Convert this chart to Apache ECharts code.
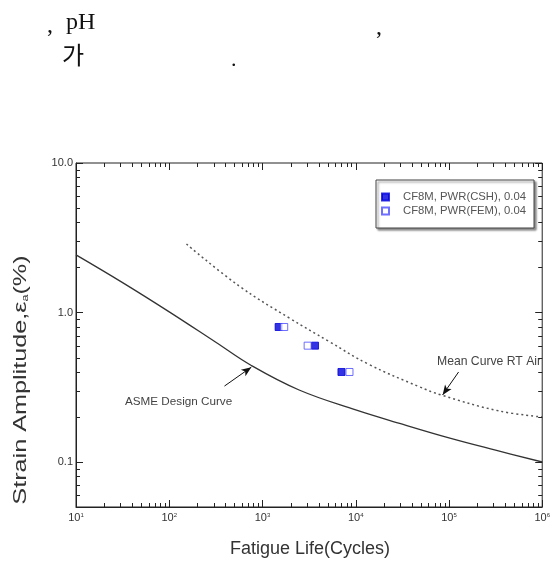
<!DOCTYPE html>
<html>
<head>
<meta charset="utf-8">
<script src="https://cdn.jsdelivr.net/npm/echarts@6/dist/echarts.min.js"></script>
<style>
html,body{margin:0;padding:0;background:#fff;}
#c{width:553px;height:565px;}
</style>
</head>
<body>
<div id="c"></div>
<script>
// ---- data (raw values) ----
const asmeN = [10, 31.6, 100, 316, 759, 2470, 10000, 31600, 100000, 316000, 1000000];
const asmeS = [2.43, 1.585, 1.01, 0.632, 0.442, 0.303, 0.223, 0.179, 0.145, 0.12, 0.1];
const meanN = [153, 565, 1930, 5180, 13800, 47300, 83400, 339000, 1000000];
const meanS = [2.87, 1.50, 0.92, 0.64, 0.45, 0.32, 0.28, 0.22, 0.20];
const cshN = [1490, 3660, 7030];
const cshS = [0.8, 0.6, 0.4];
const femN = [1710, 3050, 8570];
const femS = [0.8, 0.6, 0.4];
const asmeArrow = [[391, 0.322], [759, 0.431]];
const meanArrow = [[126800, 0.400], [85500, 0.281]];
const xDecades = [10, 100, 1000, 10000, 100000, 1000000];
const yTickValues = [0.1, 1, 10];
const yTickLabels = ['0.1', '1.0', '10.0'];
const seriesNames = ['CF8M, PWR(CSH), 0.04', 'CF8M, PWR(FEM), 0.04'];

const L = Math.log10;
const xMin = 1, xMax = 6;
const yMin = L(0.05), yMax = 1;

function minorTicks(lo, hi) {
  const out = [];
  for (let d = -3; d <= 7; d++) {
    for (let k = 2; k <= 9; k++) {
      const v = L(k) + d;
      if (v > lo + 1e-9 && v < hi - 1e-9) out.push(v);
    }
  }
  return out;
}
const xMajor = xDecades.map(L);
const yMajor = yTickValues.map(L);
const xTickData = xMajor.map(v => [v, 1]).concat(minorTicks(xMin, xMax).map(v => [v, 0]));
const yTickData = yMajor.map(v => [v, 1]).concat(minorTicks(yMin, yMax).map(v => [v, 0]));

const lineCol = '#222';
const font = '"Liberation Sans", Arial, sans-serif';
const px = v => Math.round(v) + 0.5;

function tickRenderer(isX) {
  return function (params, api) {
    const cs = params.coordSys;
    const len = api.value(1) ? 7 : 4;
    const st = {stroke: lineCol, lineWidth: 1};
    if (isX) {
      const x = px(api.coord([api.value(0), yMin])[0]);
      const b = cs.y + cs.height, t = cs.y;
      return {type: 'group', children: [
        {type: 'line', shape: {x1: x, y1: b, x2: x, y2: b - len}, style: st},
        {type: 'line', shape: {x1: x, y1: t, x2: x, y2: t + len}, style: st}]};
    }
    const y = px(api.coord([xMin, api.value(0)])[1]);
    const l = cs.x, r = cs.x + cs.width;
    return {type: 'group', children: [
      {type: 'line', shape: {x1: l, y1: y, x2: l + len, y2: y}, style: st},
      {type: 'line', shape: {x1: r, y1: y, x2: r - len, y2: y}, style: st}]};
  };
}

const toXY = (ns, ss) => ns.map((n, i) => [L(n), L(ss[i])]);
const arrowLine = a => [[{coord: [L(a[0][0]), L(a[0][1])], symbol: 'none'},
                         {coord: [L(a[1][0]), L(a[1][1])], symbol: 'arrow'}]];

const chart = echarts.init(document.getElementById('c'), null, {renderer: 'canvas'});
chart.setOption({
  animation: false,
  backgroundColor: '#fff',
  grid: {left: 76, right: 9, top: 163, bottom: 58, containLabel: false,
         show: true, borderColor: lineCol, borderWidth: 1, backgroundColor: 'transparent'},
  xAxis: {
    type: 'value', min: xMin, max: xMax, interval: 1, position: 'bottom',
    splitLine: {show: false},
    axisLine: {show: true, onZero: false, lineStyle: {color: lineCol, width: 1}},
    axisTick: {show: false},
    axisLabel: {show: true, margin: 5, color: '#333', fontFamily: font,
      formatter: v => '{b|10}{s|' + Math.round(v) + '}',
      rich: {b: {fontSize: 11, fontFamily: font, color: '#333'},
             s: {fontSize: 6, fontFamily: font, color: '#333', padding: [0, 0, 6, 0]}}}
  },
  yAxis: {
    type: 'value', min: yMin, max: yMax, position: 'left',
    splitLine: {show: false},
    axisLine: {show: true, onZero: false, lineStyle: {color: lineCol, width: 1}},
    axisTick: {show: false},
    axisLabel: {show: true, margin: 3, color: '#333', fontSize: 11, fontFamily: font,
      customValues: yMajor,
      formatter: v => { const i = yMajor.findIndex(m => Math.abs(m - v) < 1e-6); return i >= 0 ? yTickLabels[i] : ''; }}
  },
  legend: {
    orient: 'vertical', left: 376, top: 180,
    data: seriesNames,
    itemWidth: 7, itemHeight: 7, itemGap: 2,
    padding: [11, 8, 11, 5],
    borderColor: '#444', borderWidth: 1, borderRadius: 0,
    backgroundColor: '#fff',
    shadowColor: 'rgba(0,0,0,0.45)', shadowBlur: 2, shadowOffsetX: 2, shadowOffsetY: 2,
    textStyle: {fontSize: 11.3, color: '#555', fontFamily: font, lineHeight: 12, padding: [0, 0, 0, 9]},
    selectedMode: false
  },
  series: [
    {type: 'custom', name: 'xticks', data: xTickData, renderItem: tickRenderer(true), clip: false, silent: true, z: 5},
    {type: 'custom', name: 'yticks', data: yTickData, encode: {x: 1, y: 0}, renderItem: tickRenderer(false), clip: false, silent: true, z: 5},
    {type: 'line', name: 'ASME Design Curve', data: toXY(asmeN, asmeS), smooth: 0.4,
     showSymbol: false, symbol: 'none', lineStyle: {color: '#333', width: 1.3}, silent: true,
     markLine: {silent: true, symbolSize: [6, 10], label: {show: false},
       lineStyle: {color: '#111', width: 1, type: 'solid'}, data: arrowLine(asmeArrow)}},
    {type: 'line', name: 'Mean Curve RT Air', data: toXY(meanN, meanS), smooth: 0.4,
     showSymbol: false, symbol: 'none', lineStyle: {color: '#555', width: 1.5, type: [2, 3]}, silent: true,
     markLine: {silent: true, symbolSize: [6, 10], label: {show: false},
       lineStyle: {color: '#111', width: 1, type: 'solid'}, data: arrowLine(meanArrow)}},
    {type: 'scatter', name: seriesNames[0], data: toXY(cshN, cshS), symbol: 'rect', symbolSize: 7,
     itemStyle: {color: '#0000dd', borderColor: '#0000dd', borderWidth: 1}},
    {type: 'scatter', name: seriesNames[1], data: toXY(femN, femS), symbol: 'rect', symbolSize: 7,
     itemStyle: {color: '#ffffff', borderColor: '#4a4aff', borderWidth: 1}}
  ],
  graphic: [
    {type: 'text', left: 47, top: 14, style: {text: ',', font: '24px "Liberation Serif", "Times New Roman", serif', fill: '#111'}},
    {type: 'text', left: 66, top: 11, style: {text: 'pH', font: '24px "Liberation Serif", "Times New Roman", serif', fill: '#111'}},
    {type: 'text', left: 376, top: 16, style: {text: ',', font: '24px "Liberation Serif", "Times New Roman", serif', fill: '#111'}},
    {type: 'text', left: 62, top: 43, style: {text: '가', font: '24px "Noto Sans CJK KR", sans-serif', fill: '#111'}},
    {type: 'text', left: 231, top: 49, style: {text: '.', font: '22px "Liberation Serif", serif', fill: '#111'}},
    {type: 'text', x: 21, y: 380, rotation: Math.PI / 2, scaleX: 1.4,
     style: {text: 'Strain Amplitude,ε{s|a}(%)', fill: '#333', font: '18px ' + font,
       align: 'center', verticalAlign: 'middle',
       rich: {s: {fontSize: 9, fontFamily: font, fill: '#333', padding: [10, 0, 0, 0]}}}},
    {type: 'text', x: 310, y: 549, style: {text: 'Fatigue Life(Cycles)', fill: '#333', font: '18px ' + font, align: 'center', verticalAlign: 'middle'}},
    {type: 'text', left: 125, top: 396, style: {text: 'ASME Design Curve', fill: '#444', font: '11.7px ' + font}},
    {type: 'text', left: 437, top: 356, style: {text: 'Mean Curve RT Air', fill: '#444', font: '12.2px ' + font}}
  ]
});
</script>
</body>
</html>
